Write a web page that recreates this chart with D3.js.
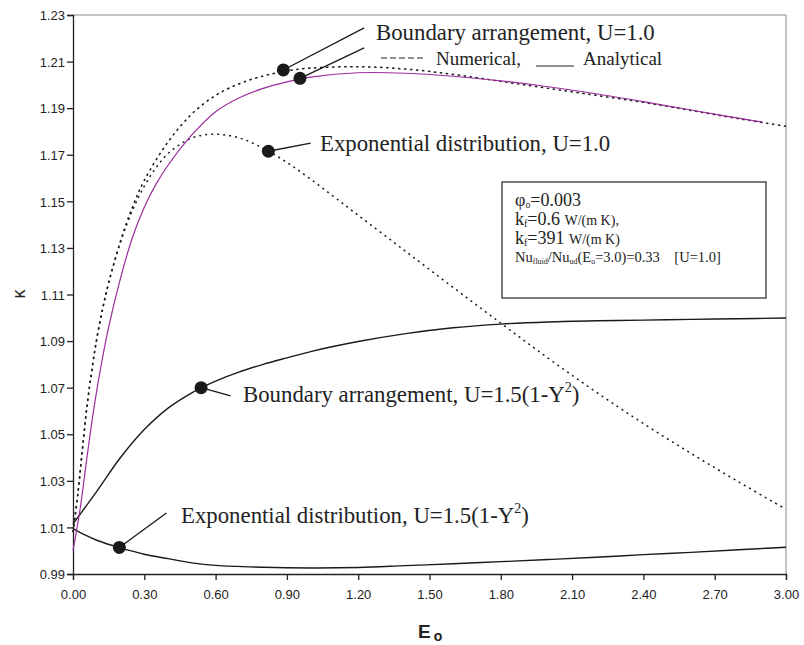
<!DOCTYPE html>
<html>
<head>
<meta charset="utf-8">
<script src="https://cdn.jsdelivr.net/npm/d3@7"></script>
<style>
  body { margin: 0; background: #fff; }
  svg { display: block; }
  .tick text { font-family: "Liberation Sans", Arial, sans-serif; font-size: 13px; fill: #222; }
  .serif { font-family: "Liberation Serif", "Times New Roman", serif; fill: #222; }
</style>
</head>
<body>
<div id="chart"></div>
<script>
// Boundary arrangement, U=1.0 - numerical (dotted)
const numBx = [0, 0.02, 0.04, 0.06, 0.08, 0.1, 0.125, 0.15, 0.2, 0.25, 0.3, 0.4, 0.5, 0.6, 0.7, 0.8, 0.9, 1.0, 1.2, 1.4, 1.6, 1.8, 2.0, 2.2, 2.4, 2.6, 2.8, 3.0]
const numBy = [1.008, 1.024, 1.044, 1.063, 1.078, 1.091, 1.104, 1.115, 1.133, 1.1475, 1.159, 1.1755, 1.1875, 1.1955, 1.2005, 1.2038, 1.206, 1.2072, 1.2078, 1.2068, 1.2045, 1.2015, 1.1985, 1.1955, 1.1925, 1.189, 1.1855, 1.1822]

// Boundary arrangement, U=1.0 - analytical (purple)
const anaBx = [0, 0.03, 0.06, 0.09, 0.12, 0.15, 0.2, 0.25, 0.3, 0.35, 0.4, 0.5, 0.6, 0.7, 0.8, 0.9, 1.0, 1.2, 1.4, 1.6, 1.8, 2.0, 2.2, 2.4, 2.6, 2.9]
const anaBy = [1.000, 1.018, 1.041, 1.0625, 1.0805, 1.096, 1.117, 1.1345, 1.1475, 1.1575, 1.1655, 1.1785, 1.1885, 1.1945, 1.1985, 1.2013, 1.2033, 1.2052, 1.2050, 1.2037, 1.2017, 1.1992, 1.1962, 1.1928, 1.1892, 1.184]

// Exponential distribution, U=1.0 (dotted)
const expAx = [0, 0.02, 0.04, 0.06, 0.08, 0.1, 0.125, 0.15, 0.2, 0.25, 0.3, 0.35, 0.4, 0.5, 0.6, 0.7, 0.8, 0.9, 1.0, 1.1, 1.2, 1.4, 1.6, 1.8, 2.0, 2.2, 2.4, 2.6, 2.8, 3.0]
const expAy = [1.008, 1.024, 1.044, 1.063, 1.078, 1.091, 1.104, 1.115, 1.1325, 1.146, 1.1565, 1.1645, 1.1705, 1.1772, 1.1788, 1.1772, 1.1728, 1.1667, 1.1595, 1.1518, 1.144, 1.1285, 1.113, 1.0977, 1.0826, 1.0682, 1.0546, 1.0418, 1.0296, 1.0178]

// Boundary arrangement, U=1.5(1-Y^2)
const bndPx = [0, 0.1, 0.2, 0.3, 0.4, 0.5, 0.6, 0.7, 0.8, 0.9, 1.0, 1.2, 1.4, 1.6, 1.8, 2.0, 2.2, 2.4, 2.6, 2.8, 3.0]
const bndPy = [1.0115, 1.0255, 1.040, 1.052, 1.0612, 1.0678, 1.0728, 1.0768, 1.0800, 1.0828, 1.0855, 1.0898, 1.0932, 1.0957, 1.0973, 1.0982, 1.0987, 1.0990, 1.0993, 1.0996, 1.0999]

// Exponential distribution, U=1.5(1-Y^2)
const expPx = [0, 0.05, 0.1, 0.2, 0.3, 0.4, 0.5, 0.6, 0.8, 1.0, 1.2, 1.4, 1.6, 1.8, 2.0, 2.2, 2.4, 2.6, 2.8, 3.0]
const expPy = [1.0095, 1.0068, 1.0045, 1.0012, 0.9985, 0.9966, 0.9948, 0.9937, 0.9929, 0.9926, 0.9928, 0.9936, 0.9944, 0.9953, 0.9962, 0.9972, 0.9983, 0.9993, 1.0004, 1.0015]

// marker positions [x, y] and the far end of their leader lines
const markers = [[0.885, 1.2064], [0.955, 1.2028], [0.822, 1.1715], [0.539, 1.070], [0.195, 1.0014]]
const leaders = [[1.225, 1.2245], [1.225, 1.2159], [1.0, 1.175], [0.663, 1.0665], [0.393, 1.0162]]

const xTicks = [0, 0.3, 0.6, 0.9, 1.2, 1.5, 1.8, 2.1, 2.4, 2.7, 3.0]
const yTicks = [0.99, 1.01, 1.03, 1.05, 1.07, 1.09, 1.11, 1.13, 1.15, 1.17, 1.19, 1.21, 1.23]

const width = 804, height = 645
const margin = {top: 15, right: 18, bottom: 71, left: 73}

const svg = d3.select("#chart")
    .append("svg")
    .attr("width", width)
    .attr("height", height)

const x = d3.scaleLinear().domain([0, 3]).range([margin.left, width - margin.right])
const y = d3.scaleLinear().domain([0.99, 1.23]).range([height - margin.bottom, margin.top])

// gray frame top and right
svg.append("path")
    .attr("d", `M${x(0)},${y(1.23)}H${x(3)}V${y(0.99)}`)
    .attr("fill", "none")
    .attr("stroke", "#8a8a8a")
    .attr("stroke-width", 1)

// axes
svg.append("g")
    .attr("transform", `translate(0,${y(0.99)})`)
    .call(d3.axisBottom(x).tickValues(xTicks).tickFormat(d3.format(".2f")).tickSize(6).tickPadding(10))
    .call(g => g.selectAll("line, path").attr("stroke", "#222").attr("stroke-width", 1.3))

svg.append("g")
    .attr("transform", `translate(${x(0)},0)`)
    .call(d3.axisLeft(y).tickValues(yTicks).tickFormat(d3.format(".2f")).tickSize(6).tickPadding(2))
    .call(g => g.selectAll("line, path").attr("stroke", "#222").attr("stroke-width", 1.3))
    .call(g => g.selectAll("text").attr("dy", "0.36em"))

// axis titles
svg.append("text")
    .attr("transform", "translate(25,294) rotate(-90)")
    .attr("text-anchor", "middle")
    .attr("font-family", "Liberation Sans, Arial, sans-serif")
    .attr("font-size", 18)
    .attr("fill", "#222")
    .text("κ")

const xt = svg.append("text")
    .attr("x", 418).attr("y", 638)
    .attr("font-family", "Liberation Sans, Arial, sans-serif")
    .attr("font-weight", "bold")
    .attr("font-size", 19)
    .attr("fill", "#222")
xt.append("tspan").text("E")
xt.append("tspan").attr("font-size", 14).attr("dx", 3).attr("dy", 3).text("o")

// curves
const line = d3.line()
    .x(d => x(d[0]))
    .y(d => y(d[1]))
    .curve(d3.curveCatmullRom)

const series = [
    {xs: bndPx, ys: bndPy, color: "#1a1a1a", dash: null, w: 1.4},
    {xs: expPx, ys: expPy, color: "#1a1a1a", dash: null, w: 1.4},
    {xs: expAx, ys: expAy, color: "#1a1a1a", dash: "2,4", w: 1.5},
    {xs: numBx, ys: numBy, color: "#1a1a1a", dash: "2.5,3.5", w: 1.5},
    {xs: anaBx, ys: anaBy, color: "#9c2d9c", dash: null, w: 1.2}
]

svg.selectAll(".curve")
    .data(series)
    .join("path")
    .attr("class", "curve")
    .attr("d", s => line(d3.zip(s.xs, s.ys)))
    .attr("fill", "none")
    .attr("stroke", s => s.color)
    .attr("stroke-width", s => s.w)
    .attr("stroke-dasharray", s => s.dash)

// leader lines and markers
svg.selectAll(".leader")
    .data(d3.zip(markers, leaders))
    .join("line")
    .attr("class", "leader")
    .attr("x1", d => x(d[0][0])).attr("y1", d => y(d[0][1]))
    .attr("x2", d => x(d[1][0])).attr("y2", d => y(d[1][1]))
    .attr("stroke", "#1a1a1a")
    .attr("stroke-width", 1.3)

svg.selectAll(".marker")
    .data(markers)
    .join("circle")
    .attr("class", "marker")
    .attr("cx", d => x(d[0]))
    .attr("cy", d => y(d[1]))
    .attr("r", 6.5)
    .attr("fill", "#1a1a1a")

// labels
function label(px, py, size, parts) {
    const t = svg.append("text").attr("class", "serif")
        .attr("x", px).attr("y", py).attr("font-size", size)
    parts.forEach(p => {
        const s = t.append("tspan").text(p.t)
        if (p.sup) s.attr("font-size", size * 0.62).attr("dy", -size * 0.42)
        if (p.sub) s.attr("font-size", size * 0.55).attr("dy", size * 0.12)
        if (p.back) s.attr("dy", p.back)
        if (p.size) s.attr("font-size", p.size)
    })
    return t
}

const big = 22.8
label(376, 40, big, [{t: "Boundary arrangement, U=1.0"}])
label(320, 151, big, [{t: "Exponential distribution, U=1.0"}])
label(243, 402, big, [{t: "Boundary arrangement, U=1.5(1-Y"}, {t: "2", sup: true}, {t: ")", back: big * 0.42}])
label(181, 523, big, [{t: "Exponential distribution, U=1.5(1-Y"}, {t: "2", sup: true}, {t: ")", back: big * 0.42}])

// legend for line styles
svg.append("line")
    .attr("x1", 381).attr("x2", 426).attr("y1", 58).attr("y2", 58)
    .attr("stroke", "#222").attr("stroke-width", 1.2).attr("stroke-dasharray", "6,3")
label(436, 65, 19, [{t: "Numerical,"}])
svg.append("line")
    .attr("x1", 536).attr("x2", 574).attr("y1", 66).attr("y2", 66)
    .attr("stroke", "#222").attr("stroke-width", 1.2)
label(583, 65, 19, [{t: "Analytical"}])

// parameter box
svg.append("rect")
    .attr("x", 502).attr("y", 182).attr("width", 264).attr("height", 116)
    .attr("fill", "#fff").attr("stroke", "#222").attr("stroke-width", 1.2)

const bs = 18, ss = 14.5
label(515, 206, bs, [{t: "φ"}, {t: "o", sub: true}, {t: "=0.003", back: -bs * 0.12}])
label(515, 225, bs, [{t: "k"}, {t: "f", sub: true}, {t: "=0.6 ", back: -bs * 0.12}, {t: "W/(m K),", size: 14}])
label(515, 244, bs, [{t: "k"}, {t: "f", sub: true}, {t: "=391 ", back: -bs * 0.12}, {t: "W/(m K)", size: 14}])
label(515, 262, ss, [{t: "Nu"}, {t: "fluid", sub: true}, {t: "/Nu", back: -ss * 0.12}, {t: "ud", sub: true},
    {t: "(E", back: -ss * 0.12}, {t: "o", sub: true}, {t: "=3.0)=0.33\u00a0\u00a0\u00a0\u00a0[U=1.0]", back: -ss * 0.12}])
</script>
</body>
</html>
